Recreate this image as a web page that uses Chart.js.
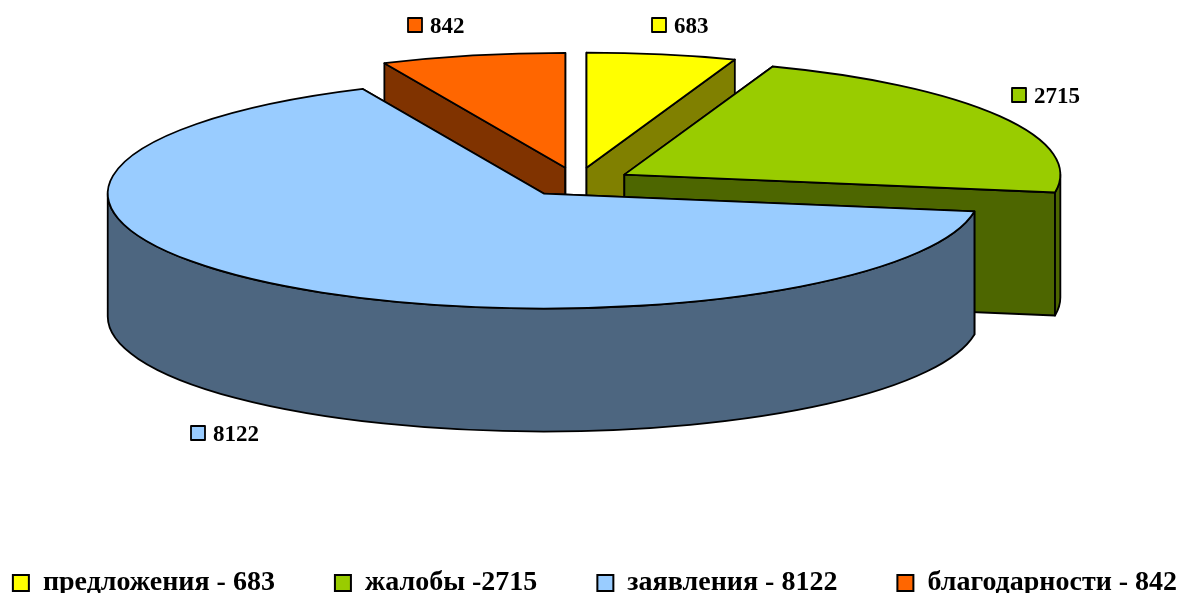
<!DOCTYPE html>
<html>
<head>
<meta charset="utf-8">
<style>
  html, body { margin: 0; padding: 0; background: #fff; overflow: hidden; }
  canvas { display: block; }
</style>
<script src="https://cdn.jsdelivr.net/npm/chart.js@4"></script>
</head>
<body>
<canvas id="chart-canvas" width="1180" height="593"></canvas>
<script>
// ---- Data ----
const categories = ["предложения - 683", "жалобы -2715", "заявления - 8122", "благодарности - 842"];
const values = [683, 2715, 8122, 842];
const topColors = ["#ffff00", "#99cc00", "#99ccff", "#ff6600"];
const sideColors = ["#808000", "#4d6600", "#4d6680", "#803300"];

// ---- Picture layout ----
const serif = "'Liberation Serif', serif";
const pieCenter = { x: 577, y: 182 };
const pieRx = 436;
const pieRy = 115;
const pieDepth = 123;
const pieExplode = 55;
const drawOrder = [3, 0, 1, 2];
const valueLabelSpots = [
  { x: 652, y: 25 },
  { x: 1012, y: 95 },
  { x: 191, y: 433 },
  { x: 408, y: 25 }
];

// slice geometry comes from the arc element, then gets tilted
const sliceGeometry = (arc) => {
  const p = arc.getProps(["x", "y", "startAngle", "endAngle", "outerRadius"], true);
  const mid = (p.startAngle + p.endAngle) / 2;
  return {
    ...p,
    sx: pieRx / p.outerRadius,
    sy: pieRy / p.outerRadius,
    tipX: pieCenter.x + Math.cos(mid) * pieExplode,
    tipY: pieCenter.y + Math.sin(mid) * pieExplode * pieRy / pieRx
  };
};

const drawSideWalls = (ctx, g, color) => {
  ctx.fillStyle = color;
  [g.startAngle, g.endAngle].forEach(angle => {
    const ex = g.tipX + Math.cos(angle) * pieRx;
    const ey = g.tipY + Math.sin(angle) * pieRy;
    ctx.beginPath();
    ctx.moveTo(g.tipX, g.tipY);
    ctx.lineTo(ex, ey);
    ctx.lineTo(ex, ey + pieDepth);
    ctx.lineTo(g.tipX, g.tipY + pieDepth);
    ctx.closePath();
    ctx.fill();
    ctx.stroke();
  });
  // rim: only the part facing the viewer
  const from = Math.max(g.startAngle, 0);
  const to = Math.min(g.endAngle, Math.PI);
  if (from < to) {
    ctx.beginPath();
    ctx.ellipse(g.tipX, g.tipY, pieRx, pieRy, 0, from, to);
    ctx.ellipse(g.tipX, g.tipY + pieDepth, pieRx, pieRy, 0, to, from, true);
    ctx.closePath();
    ctx.fill();
    ctx.stroke();
  }
};

const drawTop = (ctx, arc, g) => {
  ctx.save();
  ctx.translate(g.tipX, g.tipY);
  ctx.scale(g.sx, g.sy);
  ctx.translate(-g.x, -g.y);
  arc.draw(ctx);
  ctx.restore();
  ctx.beginPath();
  ctx.moveTo(g.tipX, g.tipY);
  ctx.ellipse(g.tipX, g.tipY, pieRx, pieRy, 0, g.startAngle, g.endAngle);
  ctx.closePath();
  ctx.stroke();
};

const drawValueLabels = (ctx) => {
  ctx.font = "bold 23px " + serif;
  ctx.textBaseline = "middle";
  ctx.textAlign = "left";
  ctx.lineWidth = 1.8;
  values.forEach((value, i) => {
    const spot = valueLabelSpots[i];
    ctx.fillStyle = topColors[i];
    ctx.fillRect(spot.x, spot.y - 7, 14, 14);
    ctx.strokeRect(spot.x, spot.y - 7, 14, 14);
    ctx.fillStyle = "#000";
    ctx.fillText(String(value), spot.x + 22, spot.y + 2);
  });
};

const tiltedPie = {
  id: "tiltedPie",
  beforeDatasetsDraw(chart) {
    const ctx = chart.ctx;
    const arcs = chart.getDatasetMeta(0).data;
    ctx.save();
    ctx.strokeStyle = "#000";
    ctx.lineWidth = 1.8;
    ctx.lineJoin = "round";
    drawOrder.forEach(i => {
      const g = sliceGeometry(arcs[i]);
      drawSideWalls(ctx, g, sideColors[i]);
      drawTop(ctx, arcs[i], g);
    });
    drawValueLabels(ctx);
    ctx.restore();
    return false;
  }
};

new Chart(document.getElementById("chart-canvas").getContext("2d"), {
  type: "pie",
  plugins: [tiltedPie],
  data: {
    labels: categories,
    datasets: [{
      data: values,
      backgroundColor: topColors,
      borderWidth: 0
    }]
  },
  options: {
    responsive: false,
    animation: false,
    // the legend row is wider than the window's default box, so let it run past the edges
    layout: { padding: { left: -60, right: -70, bottom: -14 } },
    plugins: {
      tooltip: { enabled: false },
      legend: {
        position: "bottom",
        labels: {
          color: "#000",
          font: { family: serif, size: 28, weight: "bold" },
          boxWidth: 16,
          boxHeight: 16,
          padding: 60,
          generateLabels: () => categories.map((text, i) => ({
            text,
            fillStyle: topColors[i],
            strokeStyle: "#000",
            lineWidth: 2,
            index: i
          }))
        }
      }
    }
  }
});
</script>
</body>
</html>
